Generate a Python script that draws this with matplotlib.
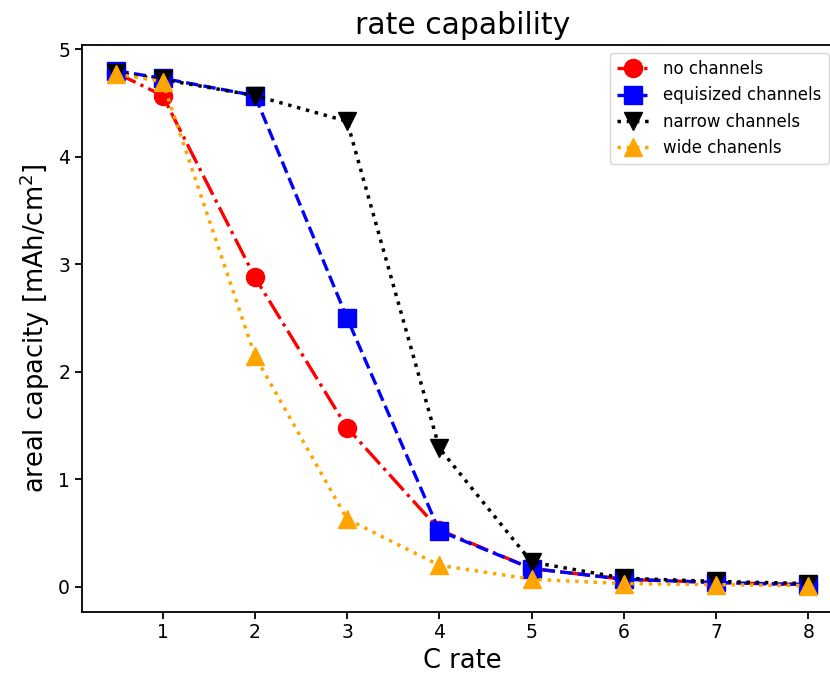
import matplotlib
matplotlib.use("Agg")
import matplotlib.pyplot as plt

# C rates and measured areal capacities
c_rate = [0.5, 1, 2, 3, 4, 5, 6, 7, 8]
no_channels = [4.78, 4.57, 2.88, 1.48, 0.53, 0.17, 0.07, 0.04, 0.02]
equisized_channels = [4.80, 4.73, 4.57, 2.50, 0.52, 0.17, 0.07, 0.04, 0.02]
narrow_channels = [4.78, 4.72, 4.57, 4.33, 1.29, 0.23, 0.08, 0.05, 0.03]
wide_channels = [4.77, 4.70, 2.15, 0.63, 0.20, 0.07, 0.03, 0.02, 0.01]

fig = plt.figure(figsize=(8.3, 6.76), dpi=100)
# axes run slightly past the right edge, like the cropped original
ax = fig.add_axes([0.0986, 0.0954, 0.917, 0.838])

ax.plot(c_rate, no_channels, 'o-.', color='red', lw=2.4, ms=13, label='no channels')
ax.plot(c_rate, equisized_channels, 's--', color='blue', lw=2.4, ms=13, label='equisized channels')
ax.plot(c_rate, narrow_channels, 'v:', color='black', lw=2.5, ms=13, label='narrow channels')
ax.plot(c_rate, wide_channels, '^:', color='orange', lw=2.5, ms=13, label='wide chanenls')

ax.set_xlim(0.125, 8.375)
ax.set_ylim(-0.23, 5.04)
ax.set_xticks([1, 2, 3, 4, 5, 6, 7, 8])
ax.set_yticks([0, 1, 2, 3, 4, 5])

ax.set_title('rate capability', fontsize=21.5, pad=8)
ax.set_xlabel('C rate', fontsize=18.5)
ax.set_ylabel('areal capacity [mAh/cm$^2$]', fontsize=18.5)
ax.tick_params(labelsize=13.5, width=1.3, length=5)
for s in ax.spines.values():
    s.set_linewidth(1.3)

ax.legend(loc='upper right', bbox_to_anchor=(0.992, 1.0), fontsize=12)

fig.savefig('out.png', dpi=100)
